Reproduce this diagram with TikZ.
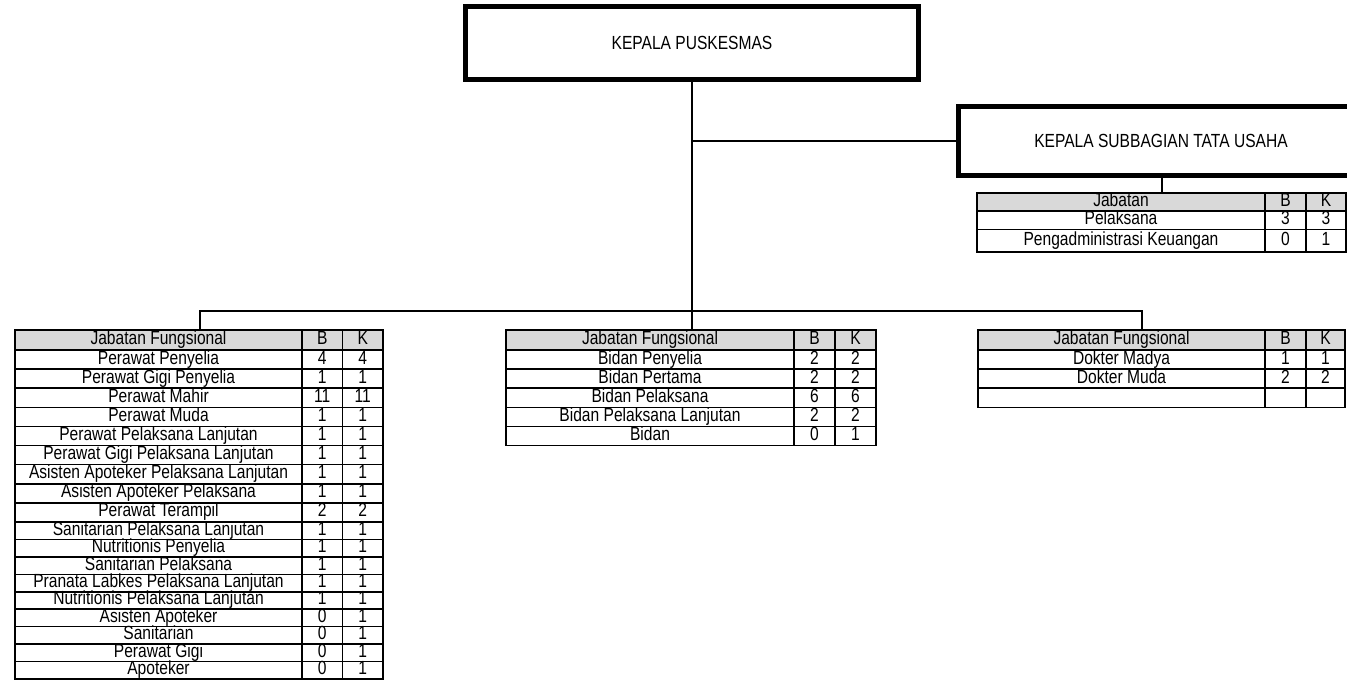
\documentclass[tikz,border=0pt]{standalone}
\usepackage{fontspec}
\setmainfont[FakeStretch=0.82]{Liberation Sans}
\usepackage{tikz}
\usetikzlibrary{positioning}

\tikzset{
  capo/.style={draw, line width=5pt, inner sep=0pt, font=\fontsize{19}{21}\selectfont},
  cella/.style={draw, line width=1.6pt, inner sep=0pt, text height=13pt, text depth=4pt, font=\fontsize{19}{21}\selectfont},
  testa/.style={cella, fill=gray!30},
  linea/.style={line width=2pt},
}

\begin{document}
\begin{tikzpicture}[x=1pt,y=-1pt]
    \useasboundingbox (0,0) rectangle (1347,683);

    % Kepala e subbagian
    \node[capo, minimum width=453, minimum height=73] (kapus) at (692,43) {KEPALA PUSKESMAS};
    \node[capo, minimum width=406, minimum height=69] (kasubag) at (1161,140.5) {KEPALA SUBBAGIAN TATA USAHA};

    % Punti di attacco delle tabelle
    \coordinate (bus) at (692,311);
    \coordinate (tA) at (200,330);
    \coordinate (tB) at (692,330);
    \coordinate (tC) at (1142,330);
    \coordinate (tD) at (1162,193);

    % Tabella tata usaha
    \node[testa, minimum width=288, minimum height=18] (D-0) at (1121,202) {Jabatan};
    \node[testa, minimum width=41, minimum height=18] (D-0-b) at (1285.5,202) {B};
    \node[testa, minimum width=40, minimum height=18] (D-0-k) at (1326,202) {K};
    \node[cella, minimum width=288, minimum height=18.5] (D-1) at (1121,220.25) {Pelaksana};
    \node[cella, minimum width=41, minimum height=18.5] (D-1-b) at (1285.5,220.25) {3};
    \node[cella, minimum width=40, minimum height=18.5] (D-1-k) at (1326,220.25) {3};
    \node[cella, minimum width=288, minimum height=22.5] (D-2) at (1121,240.75) {Pengadministrasi Keuangan};
    \node[cella, minimum width=41, minimum height=22.5] (D-2-b) at (1285.5,240.75) {0};
    \node[cella, minimum width=40, minimum height=22.5] (D-2-k) at (1326,240.75) {1};

    % Tabella sinistra
    \node[testa, minimum width=287, minimum height=20] (A-0) at (158.5,340) {Jabatan Fungsional};
    \node[testa, minimum width=40.5, minimum height=20] (A-0-b) at (322.25,340) {B};
    \node[testa, minimum width=40.5, minimum height=20] (A-0-k) at (362.75,340) {K};
    \foreach \nome/\b/\k [count=\i] in {Perawat Penyelia/4/4, Perawat Gigi Penyelia/1/1, Perawat Mahir/11/11,
        Perawat Muda/1/1, Perawat Pelaksana Lanjutan/1/1, Perawat Gigi Pelaksana Lanjutan/1/1,
        Asisten Apoteker Pelaksana Lanjutan/1/1, Asisten Apoteker Pelaksana/1/1, Perawat Terampil/2/2,
        Sanitarian Pelaksana Lanjutan/1/1, Nutritionis Penyelia/1/1, Sanitarian Pelaksana/1/1,
        Pranata Labkes Pelaksana Lanjutan/1/1, Nutritionis Pelaksana Lanjutan/1/1, Asisten Apoteker/0/1,
        Sanitarian/0/1, Perawat Gigi/0/1, Apoteker/0/1} {
      \pgfmathsetmacro{\y}{ifthenelse(\i<10, 359.55+(\i-1)*19.1, 530.72+(\i-10)*17.44)}
      \pgfmathsetmacro{\h}{ifthenelse(\i<10, 19.1, 17.44)}
      \node[cella, minimum width=287, minimum height=\h] (A-\i) at (158.5,\y) {\nome};
      \node[cella, minimum width=40.5, minimum height=\h] (A-\i-b) at (322.25,\y) {\b};
      \node[cella, minimum width=40.5, minimum height=\h] (A-\i-k) at (362.75,\y) {\k};
    }

    % Tabella centrale
    \node[testa, minimum width=288, minimum height=20] (B-0) at (650,340) {Jabatan Fungsional};
    \node[testa, minimum width=41, minimum height=20] (B-0-b) at (814.5,340) {B};
    \node[testa, minimum width=41, minimum height=20] (B-0-k) at (855.5,340) {K};
    \foreach \nome/\b/\k [count=\i] in {Bidan Penyelia/2/2, Bidan Pertama/2/2, Bidan Pelaksana/6/6,
        Bidan Pelaksana Lanjutan/2/2, Bidan/0/1} {
      \pgfmathsetmacro{\y}{359.55+(\i-1)*19.1}
      \node[cella, minimum width=288, minimum height=19.1] (B-\i) at (650,\y) {\nome};
      \node[cella, minimum width=41, minimum height=19.1] (B-\i-b) at (814.5,\y) {\b};
      \node[cella, minimum width=41, minimum height=19.1] (B-\i-k) at (855.5,\y) {\k};
    }

    % Tabella destra
    \node[testa, minimum width=287, minimum height=20] (C-0) at (1121.5,340) {Jabatan Fungsional};
    \node[testa, minimum width=41, minimum height=20] (C-0-b) at (1285.5,340) {B};
    \node[testa, minimum width=39, minimum height=20] (C-0-k) at (1325.5,340) {K};
    \foreach \nome/\b/\k [count=\i] in {Dokter Madya/1/1, Dokter Muda/2/2, {}/{}/{}} {
      \pgfmathsetmacro{\y}{359.55+(\i-1)*19.1}
      \node[cella, minimum width=287, minimum height=19.1] (C-\i) at (1121.5,\y) {\nome};
      \node[cella, minimum width=41, minimum height=19.1] (C-\i-b) at (1285.5,\y) {\b};
      \node[cella, minimum width=39, minimum height=19.1] (C-\i-k) at (1325.5,\y) {\k};
    }

    % Collegamenti
    \draw[linea] (kapus.south) -- (bus);
    \draw[linea] (kasubag.west) -- (kasubag.west -| kapus.south);
    \draw[linea] (kasubag.south -| tD) -- (tD);
    \draw[linea] (tA) |- (bus) -| (tC);
    \draw[linea] (bus) -- (tB);
\end{tikzpicture}
\end{document}
